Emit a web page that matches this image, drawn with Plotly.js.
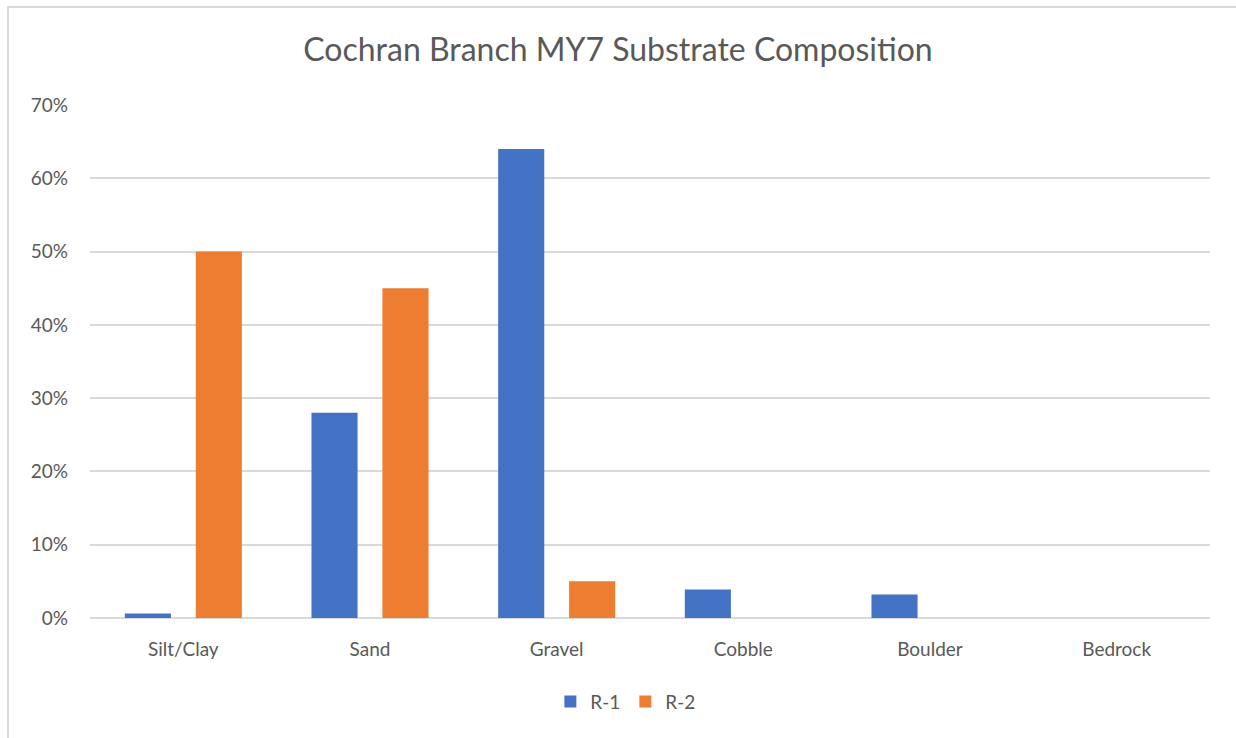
<!DOCTYPE html>
<html><head><meta charset="utf-8">
<script src="https://cdn.plot.ly/plotly-3.0.1.min.js"></script>
<style>
html,body{margin:0;padding:0;background:#fff;}
#wrap{position:relative;width:1236px;height:738px;overflow:hidden;}
#chart{width:1236px;height:738px;}
#frame{position:absolute;left:7px;top:6px;width:1260px;height:760px;border:2px solid #d9d9d9;pointer-events:none;}
</style></head>
<body>
<div id="wrap"><div id="chart"></div><div id="frame"></div></div>
<script>
const categories = ["Silt/Clay","Sand","Gravel","Cobble","Boulder","Bedrock"];
const r1 = [0.006, 0.28, 0.64, 0.039, 0.032, 0];
const r2 = [0.50, 0.45, 0.05, 0, 0, 0];
const seriesNames = ["R-1","R-2"];
const tickVals = [0,0.1,0.2,0.3,0.4,0.5,0.6,0.7];
const tickText = ["0%","10%","20%","30%","40%","50%","60%","70%"];
const font = "Lato, 'Open Sans', sans-serif";
const traces = [
 {type:"bar", x:categories, y:r1, name:seriesNames[0], marker:{color:"#4472C4"}},
 {type:"bar", x:categories, y:r2, name:seriesNames[1], marker:{color:"#ED7D31"}}
];
const layout = {
 width:1236, height:738,
 margin:{l:90,r:26,t:105,b:120},
 paper_bgcolor:"#fff", plot_bgcolor:"#fff",
 title:{text:"Cochran Branch MY7 Substrate Composition", x:0.5, xanchor:"center", y:0.932, yanchor:"middle",
   font:{family:font, size:32, color:"#595959"}},
 barmode:"group", bargap:0.24, bargroupgap:0.35,
 xaxis:{showgrid:false, showline:false, zeroline:false, ticks:"", ticklabelstandoff:18, tickfont:{family:font,size:19,color:"#595959"}},
 yaxis:{range:[0,0.7], tickvals:tickVals, ticktext:tickText, gridcolor:"#d9d9d9", gridwidth:2, zeroline:true, zerolinecolor:"#d9d9d9", zerolinewidth:2,
   showline:false, ticks:"", ticklabelstandoff:21, tickfont:{family:font,size:19,color:"#595959"}},
 showlegend:true,
 legend:{orientation:"h", x:0.478, xanchor:"center", y:-0.163, yanchor:"middle", font:{family:font,size:19,color:"#595959"}, itemwidth:30}
};
Plotly.newPlot("chart", traces, layout, {displayModeBar:false, staticPlot:true});
</script>
</body></html>
